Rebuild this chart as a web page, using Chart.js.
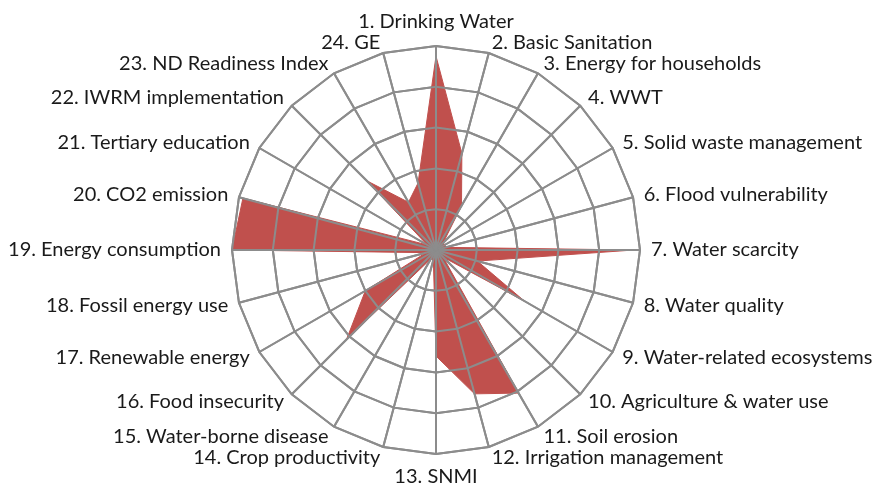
<!DOCTYPE html>
<html>
<head>
  <meta name="viewport" content="width=device-width, initial-scale=1.0">
  <title>Indicators radar</title>
  <style>
    body {
      margin: 0;
      padding: 0;
      background: #ffffff;
    }
    .chart-container {
      width: 875px;
      height: 489px;
    }
  </style>
</head>
<body>
  <div class="chart-container">
    <canvas id="radarChart" width="875" height="489"></canvas>
  </div>

  <script src="https://cdn.jsdelivr.net/npm/chart.js"></script>
  <script>
    // Indikatoren (Achsen)
    const indicators = [
      '1. Drinking Water', '2. Basic Sanitation', '3. Energy for households', '4. WWT',
      '5. Solid waste management', '6. Flood vulnerability', '7. Water scarcity', '8. Water quality',
      '9. Water-related ecosystems', '10. Agriculture & water use', '11. Soil erosion',
      '12. Irrigation management', '13. SNMI', '14. Crop productivity', '15. Water-borne disease',
      '16. Food insecurity', '17. Renewable energy', '18. Fossil energy use', '19. Energy consumption',
      '20. CO2 emission', '21. Tertiary education', '22. IWRM implementation',
      '23. ND Readiness Index', '24. GE'
    ];

    // Werte (aus dem Bild geschaetzt, Skala 0..1)
    const scores = [
      0.95, 0.49, 0.25, 0.05, 0.05, 0.05, 0.97, 0.21,
      0.50, 0.05, 0.81, 0.73, 0.52, 0.05, 0.05, 0.62,
      0.40, 0.05, 1.00, 0.98, 0.05, 0.48, 0.27, 0.34
    ];

    // Ringe
    const ringTicks = [0, 0.2, 0.4, 0.6, 0.8, 1.0];

    const gridColor = '#8c8c8c';
    const labelFont = '20px Lato';

    // Gitter nochmal ueber die Flaeche zeichnen (wie im Original)
    const gridOnTop = {
      id: 'gridOnTop',
      afterDatasetsDraw(chart) {
        chart.scales.r.drawGrid();
      }
    };

    // Beschriftung im Excel-Stil: neben dem Achsenende, seitlich mittig
    const excelLabels = {
      id: 'excelLabels',
      afterDraw(chart) {
        const scale = chart.scales.r;
        const c = chart.ctx;
        c.save();
        c.font = labelFont;
        c.fillStyle = '#1a1a1a';
        c.textBaseline = 'middle';
        chart.data.labels.forEach((text, i) => {
          const p = scale.getPointPosition(i, scale.drawingArea + 11);
          const dx = p.x - scale.xCenter;
          const dy = p.y - scale.yCenter;
          let y = p.y;
          if (Math.abs(dx) < 1) {
            c.textAlign = 'center';
            y += dy < 0 ? -13 : 12;
          } else {
            c.textAlign = dx > 0 ? 'left' : 'right';
          }
          c.fillText(text, p.x, y);
        });
        c.restore();
      }
    };

    const ctx = document.getElementById('radarChart').getContext('2d');
    new Chart(ctx, {
      type: 'radar',
      data: {
        labels: indicators,
        datasets: [{
          data: scores,
          backgroundColor: '#c0504d',
          borderColor: '#c0504d',
          borderWidth: 1,
          pointRadius: 0,
          fill: true
        }]
      },
      options: {
        responsive: false,
        animation: false,
        layout: { padding: { top: 46, bottom: 35, left: 0, right: 3 } },
        plugins: {
          legend: { display: false },
          tooltip: { enabled: false }
        },
        scales: {
          r: {
            min: 0,
            max: 1,
            afterBuildTicks(scale) {
              scale.ticks = ringTicks.map(v => ({ value: v }));
            },
            ticks: { display: false },
            grid: { color: gridColor, lineWidth: 2, circular: false },
            angleLines: { color: gridColor, lineWidth: 2 },
            pointLabels: { display: false }
          }
        }
      },
      plugins: [gridOnTop, excelLabels]
    });
  </script>
</body>
</html>
